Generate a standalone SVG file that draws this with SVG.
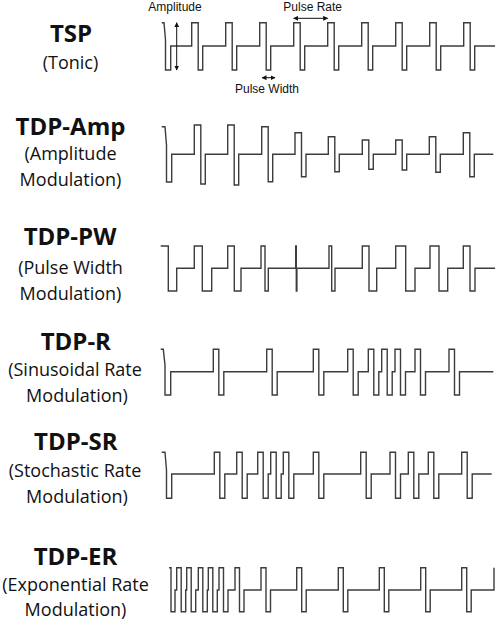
<svg xmlns="http://www.w3.org/2000/svg" width="500" height="624" viewBox="0 0 500 624">
<style>
.title{font-family:"Open Sans","Liberation Sans",sans-serif;font-weight:bold;font-size:24px;fill:#111;text-anchor:middle}
.sub{font-family:"Open Sans","Liberation Sans",sans-serif;font-size:18px;fill:#111;text-anchor:middle}
.ann{font-family:"Liberation Sans",Arial,sans-serif;font-size:12px;fill:#111}
.wave{fill:none;stroke:#3c3c3c;stroke-width:1.4;stroke-linejoin:miter}
.arr{stroke:#111;stroke-width:1;fill:none;marker-start:url(#ah);marker-end:url(#ah)}
</style>
<defs>
<marker id="ah" viewBox="0 0 10 10" refX="9" refY="5" markerWidth="5" markerHeight="5" orient="auto-start-reverse">
<path d="M0,0 L10,5 L0,10 z" fill="#111"/>
</marker>
</defs>
<rect width="500" height="624" fill="#fff"/>

<g id="tsp">
<text class="title" x="71" y="42">TSP</text>
<text class="sub" x="70.5" y="69">(Tonic)</text>
<path class="wave" d="M161.7,22.7 H164 L165.5,40 V70 H170.7 V46
H191.7 V22.7 H198.2 V70 H202.7 V46
H225.7 V22.7 H232.2 V70 H236.7 V46
H259.7 V22.7 H266.2 V70 H270.7 V46
H293.7 V22.7 H300.2 V70 H304.7 V46
H327.7 V22.7 H334.2 V70 H338.7 V46
H361.7 V22.7 H368.2 V70 H372.7 V46
H395.7 V22.7 H402.2 V70 H406.7 V46
H429.7 V22.7 H436.2 V70 H440.7 V46
H463.7 V22.7 H470.2 V70 H474.7 V46
H495"/>
<text class="ann" x="148.3" y="11">Amplitude</text>
<text class="ann" x="283.3" y="11">Pulse Rate</text>
<text class="ann" x="235" y="93">Pulse Width</text>
</g>

<g id="tdp-amp">
<text class="title" x="70.5" y="135">TDP-Amp</text>
<text class="sub" x="70.5" y="160">(Amplitude</text>
<text class="sub" x="70.5" y="186">Modulation)</text>
<path class="wave" d="M161.7,126.7 H165 L166.5,145 V182 H171.7 V154.3
H194.3 V125 H200.8 V184 H205.3 V154.3
H227.7 V125 H234.2 V185 H238.7 V154.3
H261.7 V126.7 H268.2 V181.7 H272.7 V154.3
H295 V132.7 H301.5 V176.7 H306 V154.3
H328.3 V136.7 H334.8 V171.7 H339.3 V154.3
H362.3 V140 H368.8 V169.3 H373.3 V154.3
H395.7 V140 H402.2 V170 H406.7 V154.3
H429.3 V136.7 H435.8 V172.3 H440.3 V154.3
H463.3 V132.7 H469.8 V176.7 H474.3 V154.3
H493.3"/>
</g>

<g id="tdp-pw">
<text class="title" x="70" y="245">TDP-PW</text>
<text class="sub" x="70.5" y="274">(Pulse Width</text>
<text class="sub" x="70.5" y="299.5">Modulation)</text>
<path class="wave" d="M160.7,246 H168.3 V291 H176.7 V268.3
H194.3 V246 H202.3 V291 H211.7 V268.3
H227.7 V246 H234.3 V291 H241 V268.3
H261 V246 H265 V291 H268.3 V268.3
H295.7 V246 H296.3 V291 H296.9 V268.3
H329 V246 H331.7 V291 H335 V268.3
H362.3 V246 H369 V291 H376.7 V268.3
H395.7 V246 H405.7 V291 H415 V268.3
H430 V246 H439 V291 H447.7 V268.3
H463.3 V246 H470 V291 H475 V268.3
H495"/>
</g>

<g id="tdp-r">
<text class="title" x="75.8" y="350">TDP-R</text>
<text class="sub" x="75" y="376">(Sinusoidal Rate</text>
<text class="sub" x="77" y="401.5">Modulation)</text>
<path class="wave" d="M160.7,349.3 H163.3 L165,365 V395 H170.7 V371.7
H213.3 V349.3 H218.8 V395 H223.8 V371.7
H266.7 V349.3 H272.2 V395 H277.2 V371.7
H313.3 V349.3 H318.8 V395 H323.8 V371.7
H347.7 V349.3 H353.2 V395 H358.2 V371.7
H368.3 V349.3 H373.8 V395 H378.8 V371.7
H381.7 V349.3 H387.2 V395 H392.2 V371.7
H395 V349.3 H400.5 V395 H405.5 V371.7
H415 V349.3 H420.5 V395 H425.5 V371.7
H449 V349.3 H454.5 V395 H459.5 V371.7
H493.3"/>
</g>

<g id="tdp-sr">
<text class="title" x="75.8" y="450">TDP-SR</text>
<text class="sub" x="75" y="476.5">(Stochastic Rate</text>
<text class="sub" x="77" y="502.5">Modulation)</text>
<path class="wave" d="M161.7,452.3 H165 L166.5,470 V498.3 H171.7 V474
H214.3 V452.3 H219.8 V498.3 H224.8 V474
H236.7 V452.3 H242.2 V498.3 H247.2 V474
H257.7 V452.3 H263.2 V498.3 H268.2 V474
H270.7 V452.3 H276.2 V498.3 H281.2 V474
H283.3 V452.3 H288.8 V498.3 H293.8 V474
H313.3 V452.3 H318.8 V498.3 H323.8 V474
H360.7 V452.3 H366.2 V498.3 H371.2 V474
H390 V452.3 H395.5 V498.3 H400.5 V474
H408.3 V452.3 H413.8 V498.3 H418.8 V474
H428.3 V452.3 H433.8 V498.3 H438.8 V474
H461.7 V452.3 H467.2 V498.3 H472.2 V474
H491.7"/>
</g>

<g id="tdp-er">
<text class="title" x="75.5" y="565">TDP-ER</text>
<text class="sub" x="75.5" y="591">(Exponential Rate</text>
<text class="sub" x="75.5" y="616">Modulation)</text>
<path class="wave" d="M169,567.7 H171 V611.7 H175 V590
H176.7 V567.7 H181.2 V611.7 H185.7 V590
H186.7 V567.7 H191.2 V611.7 H195.7 V590
H198.3 V567.7 H202.8 V611.7 H207.3 V590
H208.3 V567.7 H212.8 V611.7 H217.3 V590
H219 V567.7 H223.5 V611.7 H228 V590
H235 V567.7 H239.5 V611.7 H244 V590
H261 V567.7 H266 V611.7 H270.5 V590
H296.7 V567.7 H301.7 V611.7 H306.2 V590
H338.3 V567.7 H343.3 V611.7 H347.8 V590
H379.3 V567.7 H384.3 V611.7 H388.8 V590
H420.7 V567.7 H425.7 V611.7 H430.2 V590
H461.7 V567.7 H466.7 V611.7 H471.2 V590
H494 V567.7"/>
</g>

<g id="connectors">
<line class="arr" x1="176.7" y1="22.7" x2="176.7" y2="70"/>
<line class="arr" x1="293.7" y1="18.3" x2="327.7" y2="18.3"/>
<line class="arr" x1="262" y1="77.7" x2="275" y2="77.7"/>
</g>
</svg>
